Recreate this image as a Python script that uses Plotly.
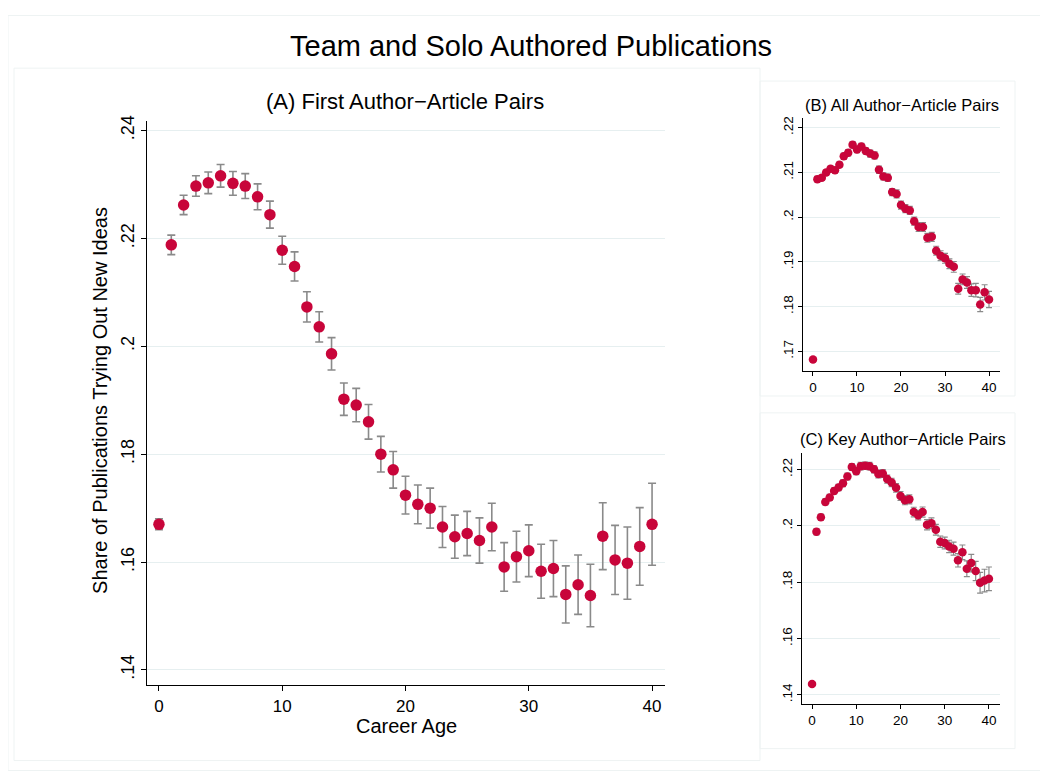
import plotly.graph_objects as go

career_age = list(range(0, 41))

# Panel A: First author-article pairs
share_a = [0.1670, 0.2188, 0.2262, 0.2297, 0.2303, 0.2316, 0.2302, 0.2297, 0.2277, 0.2244,
           0.2178, 0.2148, 0.2073, 0.2036, 0.1986, 0.1902, 0.1891, 0.1860, 0.1800, 0.1771,
           0.1724, 0.1707, 0.1700, 0.1665, 0.1647, 0.1653, 0.1640, 0.1665, 0.1591, 0.1610,
           0.1621, 0.1583, 0.1588, 0.1540, 0.1558, 0.1538, 0.1648, 0.1604, 0.1598, 0.1629,
           0.1670]
err_a = [0.0010, 0.0018, 0.0018, 0.0019, 0.0020, 0.0021, 0.0022, 0.0023, 0.0024, 0.0025,
         0.0026, 0.0027, 0.0028, 0.0028, 0.0030, 0.0030, 0.0031, 0.0032, 0.0033, 0.0034,
         0.0035, 0.0036, 0.0037, 0.0038, 0.0040, 0.0041, 0.0042, 0.0044, 0.0045, 0.0047,
         0.0048, 0.0050, 0.0052, 0.0053, 0.0055, 0.0058, 0.0062, 0.0064, 0.0067, 0.0072,
         0.0076]

# Panel B: All author-article pairs
share_b = [0.1682, 0.2085, 0.2088, 0.2100, 0.2108, 0.2105, 0.2117, 0.2136, 0.2144, 0.2162,
           0.2151, 0.2158, 0.2148, 0.2142, 0.2138, 0.2106, 0.2091, 0.2088, 0.2056, 0.2052,
           0.2027, 0.2019, 0.2015, 0.1991, 0.1978, 0.1978, 0.1954, 0.1956, 0.1925, 0.1914,
           0.1908, 0.1896, 0.1889, 0.1840, 0.1861, 0.1854, 0.1837, 0.1837, 0.1805, 0.1832,
           0.1816]
err_b = [0.0002, 0.0006, 0.0006, 0.0006, 0.0006, 0.0006, 0.0006, 0.0007, 0.0007, 0.0007,
         0.0007, 0.0007, 0.0007, 0.0008, 0.0008, 0.0008, 0.0008, 0.0008, 0.0008, 0.0009,
         0.0009, 0.0009, 0.0009, 0.0009, 0.0010, 0.0010, 0.0010, 0.0010, 0.0010, 0.0011,
         0.0011, 0.0011, 0.0012, 0.0012, 0.0012, 0.0013, 0.0014, 0.0015, 0.0016, 0.0017,
         0.0018]

# Panel C: Key author-article pairs
share_c = [0.1439, 0.1979, 0.2031, 0.2085, 0.2101, 0.2124, 0.2136, 0.2151, 0.2175, 0.2209,
           0.2194, 0.2212, 0.2213, 0.2212, 0.2201, 0.2184, 0.2186, 0.2166, 0.2154, 0.2135,
           0.2106, 0.2091, 0.2094, 0.2049, 0.2038, 0.2049, 0.2004, 0.2009, 0.1986, 0.1944,
           0.1939, 0.1927, 0.1919, 0.1878, 0.1906, 0.1848, 0.1868, 0.1840, 0.1798, 0.1806,
           0.1812]
err_c = [0.0005, 0.0011, 0.0011, 0.0011, 0.0011, 0.0011, 0.0011, 0.0012, 0.0012, 0.0012,
         0.0012, 0.0013, 0.0013, 0.0013, 0.0013, 0.0014, 0.0014, 0.0014, 0.0015, 0.0015,
         0.0016, 0.0016, 0.0016, 0.0017, 0.0017, 0.0018, 0.0018, 0.0019, 0.0019, 0.0020,
         0.0021, 0.0022, 0.0023, 0.0024, 0.0026, 0.0028, 0.0031, 0.0034, 0.0037, 0.0040,
         0.0042]

yticks_a = [0.14, 0.16, 0.18, 0.20, 0.22, 0.24]
ylabels_a = [".14", ".16", ".18", ".2", ".22", ".24"]
yticks_b = [0.17, 0.18, 0.19, 0.20, 0.21, 0.22]
ylabels_b = [".17", ".18", ".19", ".2", ".21", ".22"]
yticks_c = [0.14, 0.16, 0.18, 0.20, 0.22]
ylabels_c = [".14", ".16", ".18", ".2", ".22"]
xticks = [0, 10, 20, 30, 40]

title_main = "Team and Solo Authored Publications"
title_a = "(A) First Author\u2212Article Pairs"
title_b = "(B) All Author\u2212Article Pairs"
title_c = "(C) Key Author\u2212Article Pairs"
ytitle = "Share of Publications Trying Out New Ideas"
xtitle = "Career Age"

# page offset of the figure (body margin) and figure size
DX, DY = 8, 9.5
W, H = 1040, 764
RED = "#c8053a"
GREY = "#8a8a8a"
GRID = "#e6eff0"
FONT = "Liberation Sans, Arial, sans-serif"


def px(x):
    return (x - DX) / W


def py(y):
    return 1 - (y - DY) / H


fig = go.Figure()


def add_panel(y, err, xa, ya, msize, ewidth, capw):
    fig.add_trace(go.Scatter(
        x=career_age, y=y, mode="markers", xaxis=xa, yaxis=ya,
        marker=dict(color=RED, size=msize, line=dict(width=0)),
        error_y=dict(type="data", array=err, visible=True, color=GREY,
                     thickness=ewidth, width=capw),
        showlegend=False, hoverinfo="x+y",
    ))


add_panel(share_a, err_a, "x", "y", 11.5, 1.6, 4)
add_panel(share_b, err_b, "x2", "y2", 8.5, 1.2, 3)
add_panel(share_c, err_c, "x3", "y3", 8.5, 1.2, 3)

axis_common = dict(showline=True, linecolor="black", linewidth=1.2, ticks="outside",
                   tickcolor="black", zeroline=False, mirror=False)

fig.update_layout(
    width=W, height=H,
    margin=dict(l=0, r=0, t=0, b=0),
    paper_bgcolor="white", plot_bgcolor="white",
    font=dict(family=FONT, color="black"),
    xaxis=dict(domain=[px(147), px(665)], range=[-0.97, 41.05], tickvals=xticks,
               showgrid=False, ticklen=5, tickfont=dict(size=17), anchor="y", **axis_common),
    yaxis=dict(domain=[py(686), py(118)], range=[0.1372, 0.2418], tickvals=yticks_a,
               ticktext=ylabels_a, tickangle=-90, showgrid=True, gridcolor=GRID, gridwidth=1,
               ticklen=5, tickfont=dict(size=18), anchor="x", **axis_common),
    xaxis2=dict(domain=[px(803), px(1000)], range=[-2.27, 42.5], tickvals=xticks,
                showgrid=False, ticklen=4, tickfont=dict(size=13.5), anchor="y2", **axis_common),
    yaxis2=dict(domain=[py(370), py(115)], range=[0.1656, 0.2222], tickvals=yticks_b,
                ticktext=ylabels_b, tickangle=-90, showgrid=True, gridcolor=GRID, gridwidth=1,
                ticklen=4, tickfont=dict(size=13.5), anchor="x2", **axis_common),
    xaxis3=dict(domain=[px(802), px(1000)], range=[-2.27, 42.5], tickvals=xticks,
                showgrid=False, ticklen=4, tickfont=dict(size=13.5), anchor="y3", **axis_common),
    yaxis3=dict(domain=[py(705), py(452)], range=[0.1368, 0.226], tickvals=yticks_c,
                ticktext=ylabels_c, tickangle=-90, showgrid=True, gridcolor=GRID, gridwidth=1,
                ticklen=4, tickfont=dict(size=13.5), anchor="x3", **axis_common),
)

ann = [
    dict(text=title_main, x=px(531), y=py(43), size=29),
    dict(text=title_a, x=px(405), y=py(99), size=22),
    dict(text=title_b, x=px(902), y=py(102), size=16.5),
    dict(text=title_c, x=px(903), y=py(438), size=16.5),
    dict(text=xtitle, x=px(406), y=py(727), size=20),
]
for a in ann:
    fig.add_annotation(text=a["text"], x=a["x"], y=a["y"], xref="paper", yref="paper",
                       xanchor="center", yanchor="middle", showarrow=False,
                       font=dict(size=a["size"], family=FONT, color="black"))
fig.add_annotation(text=ytitle, x=px(100), y=py(400), xref="paper", yref="paper",
                   xanchor="center", yanchor="middle", showarrow=False, textangle=-90,
                   font=dict(size=20, family=FONT, color="black"))

# faint panel frames
BORDER = "#eef3f3"
for (x0, y0, x1, y1) in [(8, 12, 1047, 772), (14, 65, 760, 762), (760, 78, 1015, 395),
                         (760, 412, 1015, 750)]:
    fig.add_shape(type="rect", xref="paper", yref="paper", x0=px(x0), x1=px(x1),
                  y0=py(y1), y1=py(y0), line=dict(color=BORDER, width=1), layer="below")

fig.write_html("out.html")
